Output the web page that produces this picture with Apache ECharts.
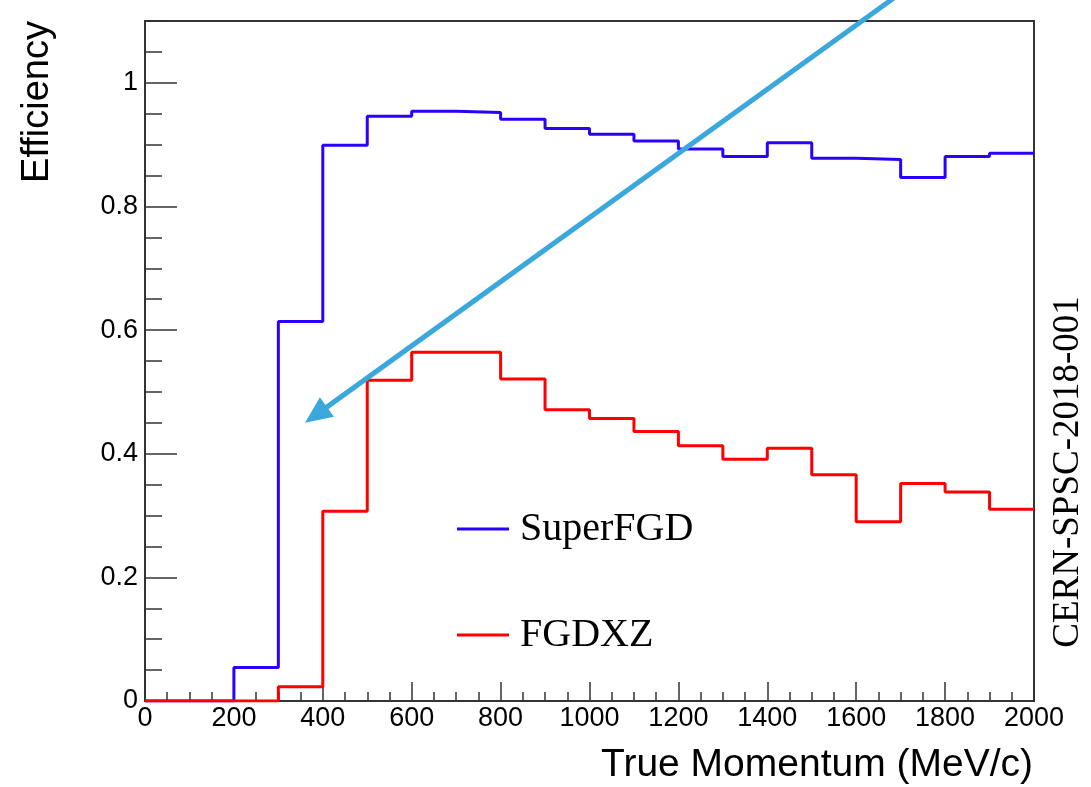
<!DOCTYPE html>
<html>
<head>
<meta charset="utf-8">
<script src="https://cdn.jsdelivr.net/npm/echarts@6/dist/echarts.min.js"></script>
<style>
html,body{margin:0;padding:0;background:#fff;}
#chart{width:1091px;height:787px;}
</style>
</head>
<body>
<div id="chart"></div>
<script>
// Bin lower edges (MeV/c), plus the final upper edge
const binEdges = [0,100,200,300,400,500,600,700,800,900,1000,1100,1200,1300,1400,1500,1600,1700,1800,1900,2000];
// Efficiency per bin (20 bins)
const superFGD = [0,0,0.054,0.614,0.899,0.946,0.954,0.952,0.941,0.926,0.917,0.906,0.893,0.881,0.903,0.878,0.876,0.847,0.881,0.886];
const fgdxz   = [0,0,0,0.023,0.307,0.519,0.564,0.564,0.521,0.471,0.457,0.436,0.413,0.391,0.409,0.366,0.290,0.352,0.338,0.310];
const seriesNames = ['SuperFGD','FGDXZ'];
const xTitle = 'True Momentum (MeV/c)';
const yTitle = 'Efficiency';
const sideNote = 'CERN-SPSC-2018-001';
// Arrow annotation, in data coordinates: [start, tip]
const arrowStart = [1690, 1.14];
const arrowTip = [360, 0.450];

function histPoints(vals){
  const pts = vals.map((v,i)=>[binEdges[i], v]);
  pts.push([binEdges[binEdges.length-1], vals[vals.length-1]]);
  return pts;
}

const chart = echarts.init(document.getElementById('chart'), null, {renderer:'canvas'});
const axisColor = '#333';
const sans = 'Liberation Sans, Arial, sans-serif';
const serif = 'Liberation Serif, Times New Roman, serif';

chart.setOption({
  animation:false,
  backgroundColor:'#fff',
  grid:{left:145, right:57, top:21, bottom:86, show:true, borderColor:axisColor, borderWidth:2, containLabel:false},
  legend:{
    orient:'vertical', left:457, top:509, padding:0,
    itemWidth:52, itemHeight:3, itemGap:66, icon:'rect',
    data:seriesNames,
    textStyle:{fontFamily:serif, fontSize:40, color:'#000', lineHeight:40, padding:[0,0,0,6]}
  },
  xAxis:{
    type:'value', min:0, max:2000, interval:200,
    axisLine:{show:true, onZero:false, lineStyle:{color:axisColor, width:2}},
    axisTick:{show:true, inside:true, length:19, lineStyle:{color:axisColor, width:1.5}},
    minorTick:{show:true, splitNumber:4, length:9, lineStyle:{color:axisColor, width:1.5}},
    axisLabel:{fontFamily:sans, fontSize:27, color:'#000', margin:4, formatter:(v)=>String(v)},
    splitLine:{show:false}, minorSplitLine:{show:false}
  },
  yAxis:[{
    type:'value', min:0, max:1.1, interval:0.2, position:'left',
    axisLine:{show:true, onZero:false, lineStyle:{color:axisColor, width:2}},
    axisTick:{show:true, inside:true, length:32, lineStyle:{color:axisColor, width:1.5}},
    axisLabel:{fontFamily:sans, fontSize:27, color:'#000', margin:7, showMaxLabel:false},
    splitLine:{show:false}
  },{
    type:'value', min:0, max:1.1, interval:0.05, position:'left', offset:0,
    axisLine:{show:false},
    axisTick:{show:true, inside:true, length:17, lineStyle:{color:axisColor, width:1.5}},
    axisLabel:{show:false},
    splitLine:{show:false}
  }],
  series:[
    {name:seriesNames[0], type:'line', step:'end', data:histPoints(superFGD), showSymbol:false, symbol:'none',
     color:'#2b00ff', lineStyle:{color:'#2b00ff', width:3}, itemStyle:{color:'#2b00ff'}, z:2},
    {name:seriesNames[1], type:'line', step:'end', data:histPoints(fgdxz), showSymbol:false, symbol:'none',
     color:'#ff0000', lineStyle:{color:'#ff0000', width:3}, itemStyle:{color:'#ff0000'}, z:3}
  ]
});

const p0 = chart.convertToPixel({gridIndex:0}, arrowStart);
const p1 = chart.convertToPixel({gridIndex:0}, arrowTip);
const dx = p1[0]-p0[0], dy = p1[1]-p0[1];
const len = Math.sqrt(dx*dx+dy*dy);
const ux = dx/len, uy = dy/len;
const L = 27, W = 12;
const bx = p1[0]-ux*L, by = p1[1]-uy*L;
const nx = -uy, ny = ux;
const arrowColor = '#3aa8dc';

chart.setOption({
  graphic:[
    {type:'line', z:50, shape:{x1:p0[0], y1:p0[1], x2:bx+ux*4, y2:by+uy*4}, style:{stroke:arrowColor, lineWidth:5}},
    {type:'polygon', z:50, shape:{points:[[p1[0],p1[1]],[bx+nx*W,by+ny*W],[bx-nx*W,by-ny*W]]}, style:{fill:arrowColor}},
    {type:'text', z:60, x:1033, y:765, style:{text:xTitle, font:'39px '+sans, fill:'#000', align:'right', verticalAlign:'middle'}},
    {type:'text', z:60, x:38, y:102, rotation:Math.PI/2, style:{text:yTitle, font:'38px '+sans, fill:'#000', align:'center', verticalAlign:'middle'}},
    {type:'text', z:60, x:1068, y:472, rotation:Math.PI/2, style:{text:sideNote, font:'37px '+serif, fill:'#000', align:'center', verticalAlign:'middle'}}
  ]
});
</script>
</body>
</html>
